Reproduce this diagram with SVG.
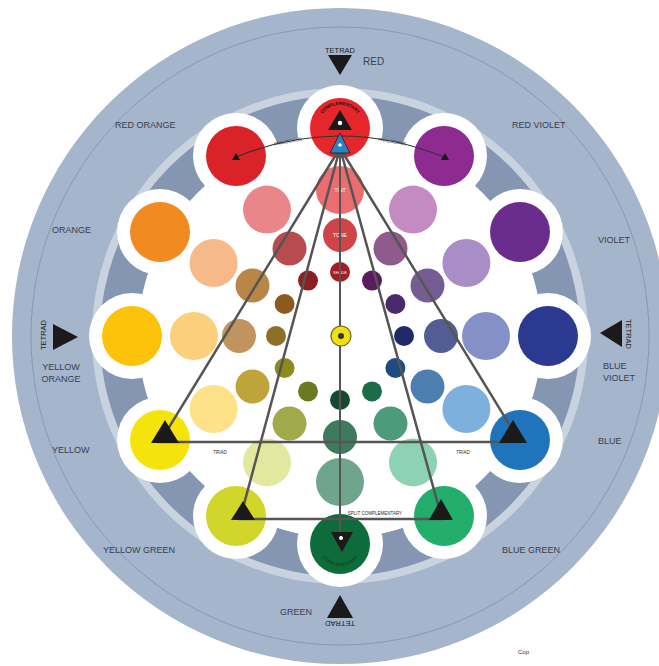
<svg xmlns="http://www.w3.org/2000/svg" width="659" height="666" viewBox="0 0 659 666">
<defs>
<style>
text{font-family:"Liberation Sans",Arial,sans-serif;}
.lbl{font-size:9px;fill:#3a4050;}
.tet{font-size:7.5px;fill:#1e1e1e;}
.in{font-size:5px;fill:#ffffff;text-anchor:middle;}
.tiny{font-size:4.5px;fill:#2a2a2a;}
.ln{stroke:#555555;stroke-width:2.5;fill:none;stroke-linecap:round;}
.ring{fill:#ffffff;}
.mk{fill:#1a1a1a;}
</style>
<path id="arcR" d="M 320.9,116 A 22 22 0 0 1 359.1,116"/>
<path id="arcG" d="M 320.9,555 A 22 22 0 0 0 359.1,555"/>
</defs>
<rect width="659" height="666" fill="#ffffff"/>
<g id="wheel">
<circle cx="340" cy="336" r="328" fill="#a4b5cc"/>
<circle cx="340" cy="336" r="309" fill="none" stroke="#8799b3" stroke-width="1"/>
<circle cx="340" cy="336" r="248" fill="#c9d3df"/>
<circle cx="340" cy="336" r="240" fill="#8496b2"/>
<circle cx="340" cy="336" r="202" fill="#ffffff"/>
<g class="ring">
<circle cx="340" cy="128" r="43"/><circle cx="444" cy="156" r="43"/><circle cx="520" cy="232" r="43"/>
<circle cx="548" cy="336" r="43"/><circle cx="520" cy="440" r="43"/><circle cx="444" cy="516" r="43"/>
<circle cx="340" cy="544" r="43"/><circle cx="236" cy="516" r="43"/><circle cx="160" cy="440" r="43"/>
<circle cx="132" cy="336" r="43"/><circle cx="160" cy="232" r="43"/><circle cx="236" cy="156" r="43"/>
</g>
</g>
<g id="hue-red"><circle cx="340" cy="128" r="30" fill="#e5272b"/><circle cx="340" cy="190" r="24" fill="#ec6d70"/><circle cx="340" cy="235" r="17" fill="#cf4547"/><circle cx="340" cy="272" r="10" fill="#a41d24"/>
<text class="in" x="340" y="192">TINT</text><text class="in" x="340" y="237">TONE</text><text class="in" x="340" y="274" style="font-size:4px">SHADE</text></g>
<g id="hue-red-violet"><circle cx="444" cy="156" r="30" fill="#8f2a91"/><circle cx="413" cy="209.6" r="24" fill="#c48bc3"/><circle cx="390.5" cy="248.5" r="17" fill="#8f5a8c"/><circle cx="372" cy="280.6" r="10" fill="#5a1c5e"/></g>
<g id="hue-violet"><circle cx="520" cy="232" r="30" fill="#6a2d8e"/><circle cx="466.4" cy="263" r="24" fill="#a88dc6"/><circle cx="427.5" cy="285.5" r="17" fill="#755d93"/><circle cx="395.4" cy="304" r="10" fill="#4a2a6a"/></g>
<g id="hue-blue-violet"><circle cx="548" cy="336" r="30" fill="#2b3990"/><circle cx="486" cy="336" r="24" fill="#8690c8"/><circle cx="441" cy="336" r="17" fill="#535c95"/><circle cx="404" cy="336" r="10" fill="#1f2a66"/></g>
<g id="hue-blue"><circle cx="520" cy="440" r="30" fill="#1f74bb"/><circle cx="466.4" cy="409" r="24" fill="#7eb0dd"/><circle cx="427.5" cy="386.5" r="17" fill="#4c7fae"/><circle cx="395.4" cy="368" r="10" fill="#1d4d80"/></g>
<g id="hue-blue-green"><circle cx="444" cy="516" r="30" fill="#23ae6c"/><circle cx="413" cy="462.4" r="24" fill="#8dd2b3"/><circle cx="390.5" cy="423.5" r="17" fill="#4c9b7a"/><circle cx="372" cy="391.4" r="10" fill="#1c6b49"/></g>
<g id="hue-green"><circle cx="340" cy="544" r="30" fill="#0e6b3a"/><circle cx="340" cy="482" r="24" fill="#6ea58c"/><circle cx="340" cy="437" r="17" fill="#3d7a5e"/><circle cx="340" cy="400" r="10" fill="#154a30"/>
<text class="tiny" style="fill:#0a3a20"><textPath href="#arcG" startOffset="50%" text-anchor="middle">COMPLEMENTARY</textPath></text></g>
<g id="hue-yellow-green"><circle cx="236" cy="516" r="30" fill="#d3d62a"/><circle cx="267" cy="462.4" r="24" fill="#e3e8a0"/><circle cx="289.5" cy="423.5" r="17" fill="#a0aa4b"/><circle cx="308" cy="391.4" r="10" fill="#6b7a20"/></g>
<g id="hue-yellow"><circle cx="160" cy="440" r="30" fill="#f5e40c"/><circle cx="213.6" cy="409" r="24" fill="#fde28a"/><circle cx="252.5" cy="386.5" r="17" fill="#bfa43c"/><circle cx="284.6" cy="368" r="10" fill="#8d8a1f"/></g>
<g id="hue-yellow-orange"><circle cx="132" cy="336" r="30" fill="#fdc30b"/><circle cx="194" cy="336" r="24" fill="#fbcf7b"/><circle cx="239" cy="336" r="17" fill="#c0935f"/><circle cx="276" cy="336" r="10" fill="#8c7028"/></g>
<g id="hue-orange"><circle cx="160" cy="232" r="30" fill="#f08a21"/><circle cx="213.6" cy="263" r="24" fill="#f6b98a"/><circle cx="252.5" cy="285.5" r="17" fill="#b88647"/><circle cx="284.6" cy="304" r="10" fill="#8c5a20"/></g>
<g id="hue-red-orange"><circle cx="236" cy="156" r="30" fill="#da2229"/><circle cx="267" cy="209.6" r="24" fill="#e8868a"/><circle cx="289.5" cy="248.5" r="17" fill="#b64c4e"/><circle cx="308" cy="280.6" r="10" fill="#8d1f22"/></g>
<g id="connectors">
<path class="ln" d="M 340,148 L 160,442 L 520,442 Z"/>
<path class="ln" d="M 340,148 L 240,519 L 442,519 Z"/>
<path d="M 340,148 L 340,540" stroke="#555555" stroke-width="2" fill="none"/>
<path d="M 236,157 Q 340,115 444,157" stroke="#333333" stroke-width="1.2" fill="none"/>
<text class="tiny" transform="translate(288,143) rotate(-10)" text-anchor="middle">ANALOGOUS</text>
<text class="tiny" transform="translate(392,143) rotate(10)" text-anchor="middle">ANALOGOUS</text>
<text class="tiny" x="220" y="454" text-anchor="middle">TRIAD</text>
<text class="tiny" x="463" y="454" text-anchor="middle">TRIAD</text>
<text class="tiny" x="375" y="515" text-anchor="middle">SPLIT COMPLEMENTARY</text>
</g>
<g id="center"><circle cx="341" cy="336" r="10" fill="#efe012" stroke="#6b6a20" stroke-width="1.2"/><circle cx="341" cy="336" r="3" fill="#333"/></g>
<g id="markers">
<polygon class="mk" points="340,110 352,130 328,130"/><circle cx="340" cy="123" r="2.2" fill="#fff"/>
<text class="tiny" style="font-weight:bold;fill:#111"><textPath href="#arcR" startOffset="50%" text-anchor="middle">COMPLEMENTARY</textPath></text>
<polygon points="340,133 350,153 330,153" fill="#2f80c2" stroke="#1a1a1a" stroke-width="0.8"/><circle cx="340" cy="145" r="1.8" fill="#fff"/>
<polygon class="mk" points="165,420 179,443 151,443"/>
<polygon class="mk" points="513,420 527,443 499,443"/>
<polygon class="mk" points="243,501 255,520 231,520"/>
<polygon class="mk" points="441,499 453,520 429,520"/>
<polygon class="mk" points="331,532 353,532 342,552"/><circle cx="341" cy="538" r="2" fill="#fff"/>
<polygon class="mk" points="236,153 240,160 232,160"/>
<polygon class="mk" points="445,153 449,160 441,160"/>
</g>
<g id="tetrads">
<polygon class="mk" points="328,55 352,55 340,75"/>
<text class="tet" x="340" y="53" text-anchor="middle">TETRAD</text>
<polygon class="mk" points="340,595 353,618 327,618"/>
<text class="tet" transform="translate(340,621) rotate(180)" text-anchor="middle">TETRAD</text>
<polygon class="mk" points="53,324 78,337 53,350"/>
<text class="tet" transform="translate(46,335) rotate(-90)" text-anchor="middle">TETRAD</text>
<polygon class="mk" points="622,320 600,333 622,347"/>
<text class="tet" transform="translate(626,334) rotate(90)" text-anchor="middle">TETRAD</text>
</g>
<g id="labels">
<text class="lbl" x="363" y="65" style="font-size:10px">RED</text>
<text class="lbl" x="512" y="128">RED VIOLET</text>
<text class="lbl" x="598" y="243">VIOLET</text>
<text class="lbl" x="603" y="369">BLUE</text>
<text class="lbl" x="603" y="381">VIOLET</text>
<text class="lbl" x="598" y="444">BLUE</text>
<text class="lbl" x="502" y="553">BLUE GREEN</text>
<text class="lbl" x="280" y="615">GREEN</text>
<text class="lbl" x="103" y="553">YELLOW GREEN</text>
<text class="lbl" x="52" y="453">YELLOW</text>
<text class="lbl" x="61" y="370" text-anchor="middle">YELLOW</text>
<text class="lbl" x="61" y="382" text-anchor="middle">ORANGE</text>
<text class="lbl" x="52" y="233">ORANGE</text>
<text class="lbl" x="115" y="128">RED ORANGE</text>
<text x="518" y="654" style="font-size:6px;fill:#333">Cop</text>
</g>
</svg>
